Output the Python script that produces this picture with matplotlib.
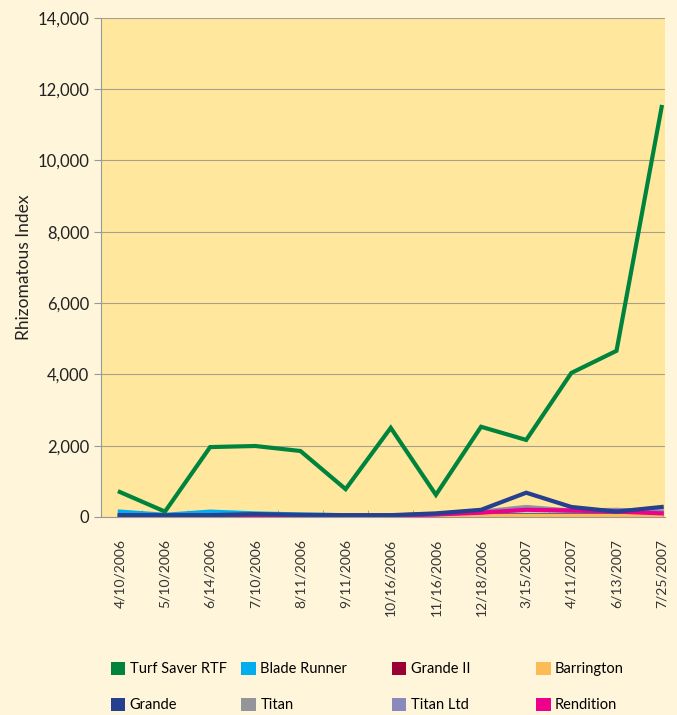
import matplotlib.pyplot as plt
from matplotlib.patches import Patch
from matplotlib.ticker import FuncFormatter, FixedLocator

plt.rcParams['font.family'] = ['Lato', 'DejaVu Sans']

dates = ["4/10/2006", "5/10/2006", "6/14/2006", "7/10/2006", "8/11/2006",
         "9/11/2006", "10/16/2006", "11/16/2006", "12/18/2006", "3/15/2007",
         "4/11/2007", "6/13/2007", "7/25/2007"]

turf_saver = [700, 150, 1960, 1990, 1850, 780, 2500, 620, 2530, 2160, 4040, 4660, 11500]
blade_runner = [150, 60, 150, 100, 70, 50, 50, 50, 60, 60, 60, 60, 60]
grande_ii = [30, 30, 30, 30, 30, 30, 30, 30, 40, 40, 40, 40, 40]
barrington = [20, 20, 20, 20, 20, 20, 20, 20, 30, 30, 30, 30, 30]
grande = [50, 50, 50, 80, 60, 50, 50, 100, 200, 680, 280, 150, 280]
titan = [40, 40, 40, 40, 40, 40, 40, 80, 150, 280, 180, 200, 150]
titan_ltd = [40, 40, 40, 40, 40, 40, 40, 80, 130, 230, 170, 180, 150]
rendition = [30, 30, 30, 30, 30, 30, 30, 70, 120, 200, 180, 150, 100]

series = [
    ("Blade Runner", blade_runner, "#00AEEF"),
    ("Grande II", grande_ii, "#990033"),
    ("Barrington", barrington, "#FDBB55"),
    ("Titan", titan, "#939598"),
    ("Titan Ltd", titan_ltd, "#8A89BC"),
    ("Rendition", rendition, "#EC008C"),
    ("Grande", grande, "#263F8F"),
    ("Turf Saver RTF", turf_saver, "#00843D"),
]

fig = plt.figure(figsize=(6.77, 7.15), dpi=100, facecolor="#FFF5DA")
ax = fig.add_axes([0.149, 0.277, 0.833, 0.698])
ax.set_facecolor("#FFE89E")

x = range(len(dates))
for name, vals, col in series:
    ax.plot(x, vals, color=col, lw=3, solid_joinstyle="miter")

ax.set_ylim(0, 14000)
ax.set_xlim(-0.42, 12.07)
ax.set_yticks(range(0, 14001, 2000))
ax.yaxis.set_major_formatter(FuncFormatter(lambda v, p: f"{int(v):,}"))
ax.grid(axis="y", color="#A8A08A", lw=0.8)
ax.set_axisbelow(True)

ax.set_xticks(list(x))
ax.set_xticklabels(dates, rotation=90, fontsize=10, color="#333333", va="top", ha="center")
ax.tick_params(axis="x", length=0, pad=16)
ax.xaxis.set_minor_locator(FixedLocator([i + 0.5 for i in range(12)]))
ax.tick_params(axis="x", which="minor", length=5, color="#999999", direction="in")
ax.tick_params(axis="y", labelsize=12, length=5, color="#999999", labelcolor="#222222")
ax.set_ylabel("Rhizomatous Index", fontsize=12.5, color="#222222", labelpad=4)

for s in ["top", "right"]:
    ax.spines[s].set_visible(False)
for s in ["left", "bottom"]:
    ax.spines[s].set_color("#999999")

colors = {n: c for n, _, c in series}
columns = [
    (["Turf Saver RTF", "Grande"], 0.155),
    (["Blade Runner", "Titan"], 0.348),
    (["Grande II", "Titan Ltd"], 0.570),
    (["Barrington", "Rendition"], 0.783),
]
for names, xpos in columns:
    handles = [Patch(facecolor=colors[n], label=n) for n in names]
    fig.legend(handles=handles, loc="lower left", bbox_to_anchor=(xpos, -0.004),
               frameon=False, fontsize=10.5, handlelength=1.0, handleheight=1.0,
               handletextpad=0.3, labelspacing=1.45, borderaxespad=0, borderpad=0.4)

fig.savefig("out.png", dpi=100, facecolor=fig.get_facecolor())
